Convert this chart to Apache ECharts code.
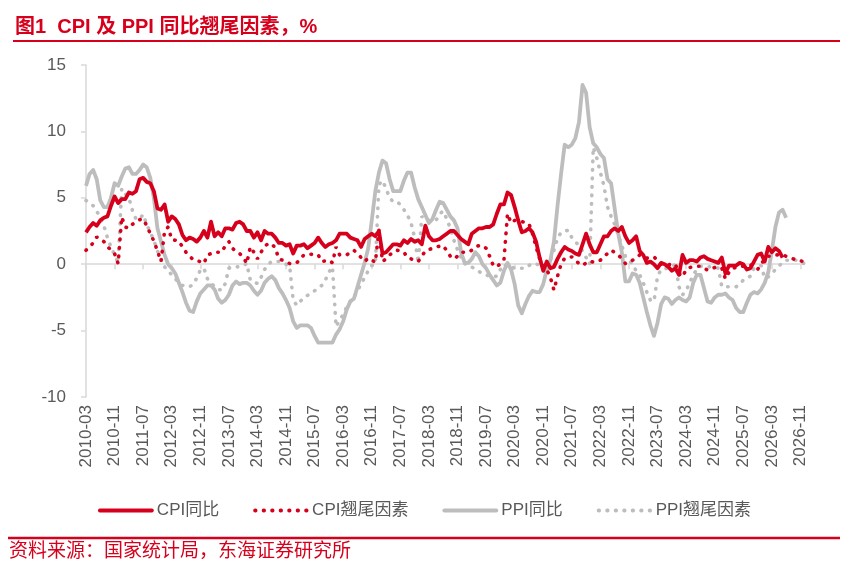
<!DOCTYPE html>
<html>
<head>
<meta charset="utf-8">
<script src="https://cdn.jsdelivr.net/npm/echarts@6.0.0/dist/echarts.min.js"></script>
<style>
  html, body { margin: 0; padding: 0; background: #fff; }
  #chart { width: 849px; height: 572px; }
</style>
</head>
<body>
<div id="chart"></div>
<script>
// 月度类目：2010-03 至 2026-12
let categories = [];
for (let y = 2010; y <= 2026; ++y) {
    for (let m = (y === 2010 ? 3 : 1); m <= 12; ++m) {
        categories.push(y + '-' + (m < 10 ? '0' + m : m));
    }
}

// CPI同比，%
let cpiYoy = [
    2.4, 2.8, 3.1, 2.9, 3.3, 3.5, 3.6, 4.4, 5.1, 4.6,
    4.9, 4.9, 5.4, 5.3, 5.5, 6.4, 6.5, 6.2, 6.1, 5.5, 4.2, 4.1,
    4.5, 3.2, 3.6, 3.4, 3.0, 2.2, 1.8, 2.0, 1.9, 1.7, 2.0, 2.5,
    2.0, 3.2, 2.1, 2.4, 2.1, 2.7, 2.7, 2.6, 3.1, 3.2, 3.0, 2.5,
    2.5, 2.0, 2.4, 1.8, 2.5, 2.3, 2.3, 2.0, 1.6, 1.6, 1.4, 1.5,
    0.8, 1.4, 1.4, 1.5, 1.2, 1.4, 1.6, 2.0, 1.6, 1.3, 1.5, 1.6,
    1.8, 2.3, 2.3, 2.3, 2.0, 1.9, 1.8, 1.3, 1.9, 2.1, 2.3, 2.1,
    2.5, 0.8, 0.9, 1.2, 1.5, 1.5, 1.4, 1.8, 1.6, 1.9, 1.7, 1.8,
    1.5, 2.9, 2.1, 1.8, 1.8, 1.9, 2.1, 2.3, 2.5, 2.5, 2.2, 1.9,
    1.7, 1.5, 2.3, 2.5, 2.7, 2.7, 2.8, 2.8, 3.0, 3.8, 4.5, 4.5,
    5.4, 5.2, 4.3, 3.3, 2.4, 2.5, 2.7, 2.4, 1.7, 0.5, -0.5, 0.2,
    -0.3, -0.2, 0.4, 0.9, 1.3, 1.1, 1.0, 0.8, 0.7, 1.5, 2.3, 1.5,
    0.9, 0.9, 1.5, 2.1, 2.1, 2.5, 2.7, 2.5, 2.8, 2.1, 1.6, 1.8,
    2.1, 1.0, 0.7, 0.1, 0.2, 0.0, -0.3, 0.1, 0.0, -0.2, -0.5, -0.3,
    -0.8, 0.7, 0.1, 0.3, 0.3, 0.2, 0.5, 0.6, 0.4, 0.3, 0.2, 0.1,
    0.5, -0.7, -0.1, -0.1, -0.1, 0.1, 0.0, -0.4, -0.3, 0.2, 0.7, 0.8,
    0.2, 1.3, 0.9, 1.2, 1.0, 0.5, null, null, null, null, null, null
];

// CPI翘尾因素，%
let cpiCarry = [
    1.05, 1.3, 1.6, 2.05, 1.9, 1.7, 1.3, 1.1, 0.8, 0.05,
    3.55, 2.8, 2.7, 3.0, 3.2, 3.35, 3.4, 2.9, 2.3, 1.75, 1.0, 0.2,
    2.5, 2.8, 1.85, 1.8, 1.75, 1.3, 0.9, 0.6, 0.35, 0.25, 0.2, 0.05,
    0.7, 0.8, 0.9, 0.9, 0.9, 1.4, 1.7, 1.2, 0.95, 0.8, 0.55, 0.05,
    1.3, 0.9, 0.4, 0.9, 1.35, 1.55, 1.55, 1.2, 0.4, 0.3, 0.2, 0.05,
    0.05, 0.1, 0.4, 0.7, 0.75, 0.75, 0.7, 0.7, 0.2, 0.25, 0.3, 0.1,
    1.3, 0.7, 0.7, 0.7, 0.9, 1.05, 0.8, 0.5, 0.2, 0.45, 0.3, 0.15,
    2.55, 0.2, 0.4, 0.7, 0.9, 1.05, 1.0, 0.9, 0.5, 0.4, 0.3, 0.2,
    0.6, 1.0, 1.1, 1.2, 1.3, 1.35, 1.4, 1.0, 0.6, 0.4, 0.6, 0.9,
    0.9, 0.9, 1.05, 1.3, 1.4, 1.4, 1.2, 0.6, -0.1, -0.2, 0.05, 0.3,
    3.8, 3.1, 3.3, 3.25, 3.2, 3.15, 3.05, 2.3, 1.3, 0.4, -0.2, -0.4,
    -1.0, -1.95, -0.9, 0.0, 0.45, 0.5, 0.55, 0.3, 0.05, -0.1, 0.1, 0.25,
    0.15, 0.2, 0.3, 0.6, 0.8, 1.05, 0.9, 0.7, 0.4, 0.05, 0.1, 0.3,
    0.45, 0.7, 0.6, 0.45, 0.5, 0.55, 0.3, 0.0, -0.05, -0.05, 0.0, 0.0,
    -0.7, -0.95, -0.4, -0.25, -0.2, -0.15, -0.15, -0.3, -0.45, -0.35, -0.25, -0.2,
    -0.3, -1.1, -0.6, -0.3, -0.25, -0.2, -0.15, -0.1, -0.05, -0.2, -0.4, 0.0,
    0.4, 0.6, 0.6, 0.7, 0.7, 0.7, 0.6, 0.5, 0.4, 0.3, 0.25, 0.2
];

// PPI同比，%
let ppiYoy = [
    5.9, 6.8, 7.1, 6.4, 4.8, 4.3, 4.3, 5.0, 6.1, 5.9,
    6.6, 7.2, 7.3, 6.8, 6.8, 7.1, 7.5, 7.3, 6.5, 5.0, 2.7, 1.7,
    0.7, 0.0, -0.3, -0.7, -1.4, -2.1, -2.9, -3.5, -3.6, -2.8, -2.2, -1.9,
    -1.6, -1.6, -1.9, -2.6, -2.9, -2.7, -2.3, -1.6, -1.3, -1.5, -1.4, -1.4,
    -1.6, -2.0, -2.3, -2.0, -1.4, -1.1, -0.9, -1.2, -1.8, -2.2, -2.7, -3.3,
    -4.3, -4.8, -4.6, -4.6, -4.6, -4.8, -5.4, -5.9, -5.9, -5.9, -5.9, -5.9,
    -5.3, -4.9, -4.3, -3.4, -2.8, -2.6, -1.7, -0.8, 0.1, 1.2, 3.3, 5.5,
    6.9, 7.8, 7.6, 6.4, 5.5, 5.5, 5.5, 6.3, 6.9, 6.9, 5.8, 4.9,
    4.3, 3.7, 3.1, 3.4, 4.1, 4.7, 4.6, 4.1, 3.6, 3.3, 2.7, 0.9,
    0.1, 0.1, 0.4, 0.9, 0.6, 0.0, -0.3, -0.8, -1.2, -1.6, -1.4, -0.5,
    0.1, -0.4, -1.5, -3.1, -3.7, -3.0, -2.4, -2.0, -2.1, -2.1, -1.5, -0.4,
    0.3, 1.7, 4.4, 6.8, 9.0, 8.8, 9.0, 9.5, 10.7, 13.5, 12.9, 10.3,
    9.1, 8.8, 8.3, 8.0, 6.4, 6.1, 4.2, 2.3, 0.9, -1.3, -1.3, -0.7,
    -0.8, -1.4, -2.5, -3.6, -4.6, -5.4, -4.4, -3.0, -2.5, -2.6, -3.0, -2.7,
    -2.5, -2.7, -2.8, -2.5, -1.4, -0.8, -0.8, -1.8, -2.8, -2.9, -2.5, -2.3,
    -2.3, -2.2, -2.5, -2.7, -3.3, -3.6, -3.6, -2.9, -2.3, -2.1, -2.2, -1.9,
    -1.4, -0.6, 1.0, 2.8, 3.9, 4.1, 3.5, null, null, null, null, null
];

// PPI翘尾因素，%
let ppiCarry = [
    4.8, 4.6, 4.4, 4.0, 3.5, 2.9, 2.0, 1.3, 0.7, 0.1,
    5.7, 5.3, 5.0, 4.05, 3.4, 3.4, 3.75, 3.0, 2.4, 1.8, 1.0, 0.4,
    -0.2, -0.5, -0.8, -1.1, -1.4, -1.6, -1.65, -1.7, -1.5, -1.05, -0.45, -0.3,
    -1.1, -1.4, -1.7, -1.9, -1.95, -1.45, -0.3, -0.2, -0.2, -0.2, -0.1, 0.05,
    -1.2, -1.35, -1.45, -1.0, -0.4, 0.0, 0.2, 0.2, 0.2, 0.1, 0.0, -0.1,
    -2.7, -3.1, -2.8, -2.5, -2.35, -2.2, -2.0, -1.8, -1.6, -1.2, -0.6, -0.2,
    -4.7, -4.2, -3.8, -3.2, -2.8, -2.5, -2.0, -1.5, -1.0, -0.5, -0.1, 0.0,
    6.0, 6.3, 5.7, 5.0, 4.7, 4.7, 4.5, 4.1, 3.7, 3.1, 2.0, 0.1,
    3.6, 3.4, 3.3, 3.2, 3.3, 3.8, 4.0, 3.4, 2.7, 1.8, 1.1, 0.5,
    0.05, -0.1, -0.2, -0.4, -0.55, -0.7, -0.8, -0.9, -0.95, -0.9, -0.4, 0.0,
    -0.2, -0.2, -0.3, -0.3, -0.3, -0.3, -0.1, 0.05, 0.0, -0.05, 0.0, 0.0,
    0.3, 1.05, 1.95, 2.4, 2.5, 2.55, 2.0, 1.7, 1.4, 1.0, 0.5, 0.0,
    8.8, 8.0, 6.9, 5.9, 4.3, 3.6, 3.0, 2.2, 1.4, 0.6, 0.3, 0.0,
    -0.5, -0.8, -1.4, -2.1, -2.7, -2.8, -0.9, -0.4, -0.35, -0.3, -0.2, 0.0,
    -1.7, -2.3, -2.0, -1.4, -0.8, -0.4, -0.15, -0.2, -0.2, -0.2, -0.25, -0.3,
    -1.7, -1.7, -1.7, -1.7, -1.7, -1.5, -1.2, -1.05, -0.9, -0.3, -0.2, -0.1,
    -1.05, -0.95, -0.7, -0.4, -0.1, 0.05, 0.3, 0.3, 0.3, 0.3, 0.2, 0.05
];

let yTicks = { min: -10, max: 15, interval: 5 };

let RED = '#D7001C';
let GRAY = '#BDBDBD';
let TEXT = '#595959';
let AXIS = '#D9D9D9';
let FONT = 'Arial, "Liberation Sans", "Noto Sans CJK SC", sans-serif';
let DOTS = [0.5, 8];

let Chart = echarts.init(document.getElementById('chart'), null, { renderer: 'canvas' });

let option = {
    animation: false,
    backgroundColor: '#fff',
    textStyle: { fontFamily: FONT },
    title: {
        text: '图1  CPI 及 PPI 同比翘尾因素，%',
        left: 10,
        top: 12,
        textStyle: { color: RED, fontSize: 20, fontWeight: 'bold', fontFamily: FONT }
    },
    graphic: [
        { type: 'line', shape: { x1: 13, y1: 41, x2: 840, y2: 41 }, style: { stroke: RED, lineWidth: 2 } },
        { type: 'line', shape: { x1: 8, y1: 538, x2: 840, y2: 538 }, style: { stroke: RED, lineWidth: 2.5 } },
        {
            type: 'text', left: 9, top: 542,
            style: { text: '资料来源：国家统计局，东海证券研究所', fill: RED, font: '19px ' + FONT }
        }
    ],
    legend: {
        data: ['CPI同比', 'CPI翘尾因素', 'PPI同比', 'PPI翘尾因素'],
        left: 'center',
        top: 497,
        itemWidth: 52,
        itemHeight: 10,
        itemGap: 34,
        itemStyle: { opacity: 0 },
        lineStyle: { width: 3.8, cap: 'round' },
        textStyle: { color: TEXT, fontSize: 17, fontFamily: FONT }
    },
    grid: {
        left: 86,
        right: 45,
        top: 65,
        bottom: 175,
        containLabel: false
    },
    xAxis: [
        {
            // 底部刻度标签
            type: 'category',
            data: categories,
            boundaryGap: false,
            position: 'bottom',
            axisLine: { show: false, onZero: false },
            axisTick: { show: false },
            axisLabel: {
                interval: 7,
                rotate: 90,
                margin: 8,
                color: TEXT,
                fontSize: 17,
                fontFamily: FONT
            },
            splitLine: { show: false }
        },
        {
            // 零轴
            type: 'category',
            data: categories,
            boundaryGap: false,
            position: 'bottom',
            axisLine: { show: true, onZero: true, lineStyle: { color: AXIS, width: 1.5 } },
            axisTick: { show: true, interval: 7, length: 5, lineStyle: { color: AXIS, width: 1.5 } },
            axisLabel: { show: false },
            splitLine: { show: false }
        }
    ],
    yAxis: {
        type: 'value',
        min: yTicks.min,
        max: yTicks.max,
        interval: yTicks.interval,
        axisLine: { show: true, lineStyle: { color: AXIS, width: 1.5 } },
        axisTick: { show: true, length: 5, lineStyle: { color: AXIS, width: 1.5 } },
        axisLabel: { color: TEXT, fontSize: 17, margin: 20, fontFamily: FONT },
        splitLine: { show: false }
    },
    series: [
        {
            name: 'PPI同比', type: 'line', data: ppiYoy, symbol: 'none',
            itemStyle: { color: GRAY },
            lineStyle: { color: GRAY, width: 3.8, join: 'round' }
        },
        {
            name: 'PPI翘尾因素', type: 'line', data: ppiCarry, symbol: 'none',
            itemStyle: { color: GRAY },
            lineStyle: { color: GRAY, width: 3.6, type: DOTS, cap: 'round' }
        },
        {
            name: 'CPI翘尾因素', type: 'line', data: cpiCarry, symbol: 'none',
            itemStyle: { color: RED },
            lineStyle: { color: RED, width: 3.6, type: DOTS, cap: 'round' }
        },
        {
            name: 'CPI同比', type: 'line', data: cpiYoy, symbol: 'none',
            itemStyle: { color: RED },
            lineStyle: { color: RED, width: 3.8, join: 'round' }
        }
    ]
};

Chart.setOption(option);
</script>
</body>
</html>
